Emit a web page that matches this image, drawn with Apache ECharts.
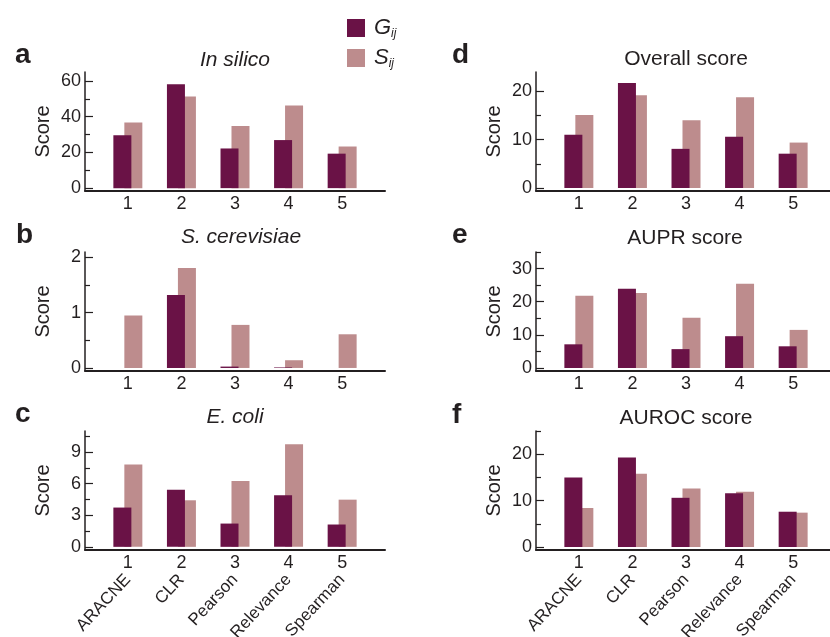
<!DOCTYPE html>
<html>
<head>
<meta charset="utf-8">
<script src="https://cdn.jsdelivr.net/npm/echarts@6/dist/echarts.min.js"></script>
<style>
  html, body { margin: 0; padding: 0; background: #fff; }
  #chart { width: 830px; height: 637px; }
</style>
</head>
<body>
<div id="chart"></div>
<script>
// methods (category positions 1..5)
var methods = ["ARACNE", "CLR", "Pearson", "Relevance", "Spearman"];
var methodPos = [1, 2, 3, 4, 5];

// scores: G = dark bars, S = light bars
var inSilicoG = [29.6, 58.1, 22.2, 26.9, 19.3];
var inSilicoS = [36.7, 51.3, 34.8, 46.3, 23.3];
var yeastG = [0, 1.32, 0.025, 0.01, 0];
var yeastS = [0.95, 1.81, 0.78, 0.14, 0.61];
var ecoliG = [3.73, 5.43, 2.21, 4.89, 2.12];
var ecoliS = [7.83, 4.42, 6.25, 9.73, 4.48];
var overallG = [11.0, 21.7, 8.1, 10.6, 7.1];
var overallS = [15.1, 19.2, 14.0, 18.8, 9.4];
var auprG = [7.15, 23.9, 5.7, 9.6, 6.55];
var auprS = [21.8, 22.6, 15.2, 25.4, 11.5];
var aurocG = [15.0, 19.3, 10.6, 11.6, 7.6];
var aurocS = [8.4, 15.8, 12.6, 11.9, 7.4];

// y tick labels
var ticksA = [0, 20, 40, 60];
var ticksB = [0, 1, 2];
var ticksC = [0, 3, 6, 9];
var ticksD = [0, 10, 20];
var ticksE = [0, 10, 20, 30];
var ticksF = [0, 10, 20];

var ink = "#231f20";
var darkColor = "#6a1246";
var lightColor = "#bd8c8d";
var font = "Liberation Sans, Arial, Helvetica, sans-serif";

var panels = [
  { letter: "a", title: "In silico", italic: true, left: 85, top: 72, width: 300, min: -1.6, max: 65,
    g: inSilicoG, s: inSilicoS, ticks: ticksA, minor: [10, 30, 50], titleX: 235, titleY: 50, letterX: 15, letterY: 41 },
  { letter: "b", title: "S. cerevisiae", italic: true, left: 85, top: 252, width: 300, min: -0.055, max: 2.1,
    g: yeastG, s: yeastS, ticks: ticksB, minor: [0.5, 1.5], titleX: 241, titleY: 227, letterX: 16, letterY: 221 },
  { letter: "c", title: "E. coli", italic: true, left: 85, top: 431, width: 300, min: -0.3, max: 11,
    g: ecoliG, s: ecoliS, ticks: ticksC, minor: [1.5, 4.5, 7.5, 10.5], names: true, titleX: 235, titleY: 407, letterX: 15, letterY: 400 },
  { letter: "d", title: "Overall score", italic: false, left: 536, top: 72, width: 294, min: -0.62, max: 24,
    g: overallG, s: overallS, ticks: ticksD, minor: [5, 15], titleX: 686, titleY: 49, letterX: 452, letterY: 41 },
  { letter: "e", title: "AUPR score", italic: false, left: 536, top: 252, width: 294, min: -0.9, max: 35,
    g: auprG, s: auprS, ticks: ticksE, minor: [5, 15, 25, 35], titleX: 685, titleY: 228, letterX: 452, letterY: 221 },
  { letter: "f", title: "AUROC score", italic: false, left: 536, top: 431, width: 294, min: -0.65, max: 25,
    g: aurocG, s: aurocS, ticks: ticksF, minor: [5, 15, 25], names: true, titleX: 686, titleY: 408, letterX: 452, letterY: 401 }
];

var grids = [], xAxes = [], yAxes = [], series = [], titles = [];
var unitPx = 300 / 5.6;

panels.forEach(function (p, i) {
  grids.push({ left: p.left, top: p.top, width: p.width, height: 119, outerBoundsMode: "none", containLabel: false });
  var xMax = 0.2 + p.width / unitPx;

  xAxes.push({
    type: "value", gridIndex: i, position: "bottom", min: 0.2, max: xMax,
    splitLine: { show: false },
    axisLine: { show: true, onZero: false, lineStyle: { color: ink, width: 2 } },
    axisTick: { show: false },
    axisLabel: { customValues: methodPos, color: ink, fontSize: 18, fontFamily: font, margin: 4 }
  });
  var xi = xAxes.length - 1;
  if (p.names) {
    xAxes.push({
      type: "value", gridIndex: i, position: "bottom", offset: 0, min: 0.2, max: xMax,
      splitLine: { show: false }, axisLine: { show: false }, axisTick: { show: false },
      axisLabel: {
        customValues: methodPos, rotate: 47, margin: 27, color: ink, fontSize: 17, fontFamily: font,
        formatter: function (v) { return methods[Math.round(v) - 1]; }
      }
    });
  }

  yAxes.push({
    type: "value", gridIndex: i, position: "left", min: p.min, max: p.max,
    splitLine: { show: false },
    axisLine: { show: true, onZero: false, lineStyle: { color: ink, width: 1.5 } },
    axisTick: { show: true, inside: true, length: 8, customValues: p.ticks, lineStyle: { color: ink, width: 1.2 } },
    axisLabel: { customValues: p.ticks, color: ink, fontSize: 18, fontFamily: font, margin: 4 },
    name: "Score", nameLocation: "middle", nameGap: 32,
    nameTextStyle: { color: ink, fontSize: 20, fontFamily: font }
  });
  var yi = yAxes.length - 1;
  yAxes.push({
    type: "value", gridIndex: i, position: "left", offset: 0, min: p.min, max: p.max,
    splitLine: { show: false }, axisLine: { show: false }, axisLabel: { show: false },
    axisTick: { show: true, inside: true, length: 5, customValues: p.minor, lineStyle: { color: ink, width: 1.2 } }
  });

  series.push({
    type: "bar", name: "G", xAxisIndex: xi, yAxisIndex: yi, z: 3,
    barWidth: 18, barGap: "-39%",
    itemStyle: { color: darkColor },
    data: methodPos.map(function (x, k) { return [x, p.g[k]]; })
  });
  series.push({
    type: "bar", name: "S", xAxisIndex: xi, yAxisIndex: yi, z: 2,
    barWidth: 18, barGap: "-39%",
    itemStyle: { color: lightColor },
    data: methodPos.map(function (x, k) { return [x, p.s[k]]; })
  });

  titles.push({
    text: p.title, left: p.titleX, top: p.titleY, textAlign: "center", padding: 0,
    textStyle: { color: ink, fontSize: 21, fontWeight: "normal", fontStyle: p.italic ? "italic" : "normal", fontFamily: font }
  });
  titles.push({
    text: p.letter, left: p.letterX, top: p.letterY, padding: 0,
    textStyle: { color: ink, fontSize: 28, fontWeight: "bold", fontFamily: font }
  });
});

var myChart = echarts.init(document.getElementById("chart"));
myChart.setOption({
  animation: false,
  title: titles,
  legend: {
    data: ["G", "S"], orient: "vertical", left: 347, top: 17, padding: 0,
    itemWidth: 18, itemHeight: 18, itemGap: 7, icon: "rect",
    formatter: function (n) { return "{m|" + n + "}{s|ij}"; },
    textStyle: {
      padding: [0, 0, 0, 4],
      rich: {
        m: { fontSize: 22, fontStyle: "italic", color: ink, fontFamily: font },
        s: { fontSize: 12, fontStyle: "italic", color: ink, fontFamily: font, padding: [12, 0, 0, 0] }
      }
    }
  },
  grid: grids,
  xAxis: xAxes,
  yAxis: yAxes,
  series: series
});
</script>
</body>
</html>
